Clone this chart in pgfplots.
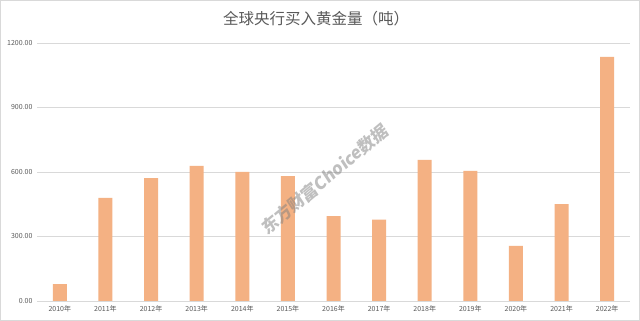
\documentclass[border=0pt]{standalone}
\usepackage{pgfplots}
\pgfplotsset{compat=1.18}
\usepackage{fontspec}
\setmainfont{Noto Sans CJK SC}
\newfontfamily\wmfont[FakeSlant=0.12]{Noto Sans CJK SC}
\definecolor{barc}{HTML}{F4B183}
\definecolor{gridc}{HTML}{D9D9D9}
\definecolor{txtc}{HTML}{595959}
\begin{document}
\begin{tikzpicture}[x=1pt,y=1pt]
\fill[white] (0,0) rectangle (640,321);
\draw[gridc] (0.5,0.5) rectangle (639.5,320.5);
\node[text=txtc,font=\fontsize{15.5}{18}\selectfont] at (316,302) {全球央行买入黄金量（吨）};
\begin{axis}[
  at={(37pt,20pt)}, anchor=south west,
  scale only axis, width=593pt, height=258pt,
  xmin=-0.5, xmax=12.5, ymin=0, ymax=1200,
  ytick={0,300,600,900,1200},
  xtick={0,...,12},
  xticklabels={2010年,2011年,2012年,2013年,2014年,2015年,2016年,2017年,2018年,2019年,2020年,2021年,2022年},
  axis line style={draw=none},
  major tick length=0pt,
  ymajorgrids, grid style={gridc, line width=0.6pt},
  /pgf/number format/fixed, /pgf/number format/fixed zerofill, /pgf/number format/precision=2, /pgf/number format/1000 sep={},
  /pgf/number format/assume math mode=true,
  tick label style={text=txtc, font=\fontsize{7}{8}\selectfont},
  yticklabel style={xshift=-1pt},
  xticklabel style={yshift=-1pt},
  ybar, bar width=14pt,
  clip=false,
]
\addplot[fill=barc, draw=none] coordinates {
 (0,79) (1,480) (2,571) (3,628) (4,600) (5,581) (6,395) (7,378) (8,656) (9,605) (10,256) (11,451) (12,1135)
};
\node[rotate=40, text=gray, opacity=0.5, font=\wmfont\fontsize{17}{17}\selectfont\bfseries] at (axis cs:5.8,565) {东方财富Choice数据};
\end{axis}
\end{tikzpicture}
\end{document}
